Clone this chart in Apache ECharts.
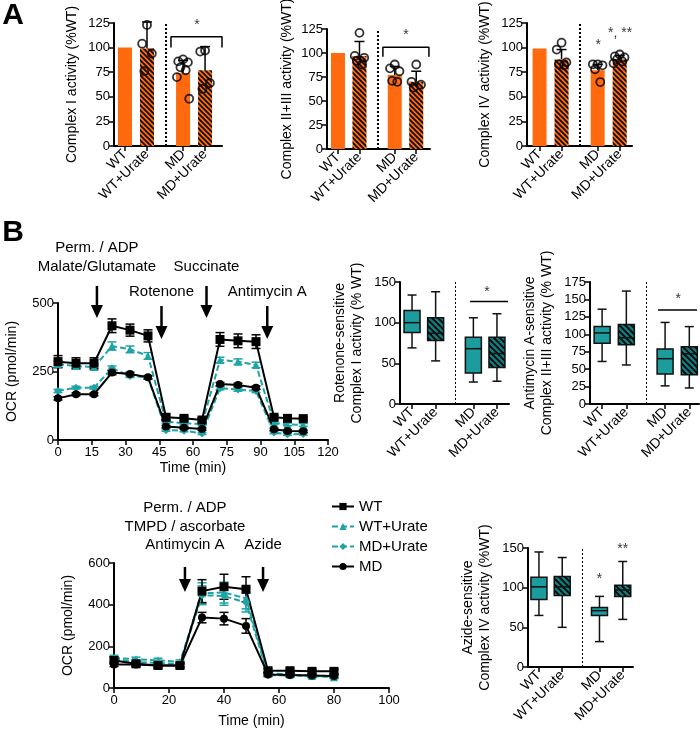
<!DOCTYPE html>
<html>
<head>
<meta charset="utf-8">
<script src="https://cdn.jsdelivr.net/npm/echarts@6/dist/echarts.min.js"></script>
<style>html,body{margin:0;padding:0;background:#fff}#main{width:700px;height:732px}</style>
</head>
<body>
<div id="main"></div>
<script>
const FONT = '"Liberation Sans", Arial, sans-serif';
const ORANGE = '#ff6a0e';
const TEAL = '#1c9c9d';
const TEAL_DARK = '#127a7b';
const TEAL_LINE = '#1ea4a6';

// ---- panel A: enzyme activity bars ----
const groups = ['WT', 'WT+Urate', 'MD', 'MD+Urate'];
const c1Mean = [100, 99, 74, 77];
const c1Sd = [0, 27, 13, 24];
const c1Points = [[], [123, 104, 94, 76], [88, 86, 85, 80, 77, 70, 48], [97, 96, 64, 58]];
const c23Mean = [100, 97, 77, 70];
const c23Sd = [0, 15, 9, 11];
const c23Points = [[], [121, 97, 95, 92, 88], [88, 84, 81, 71, 70], [88, 70, 67, 64]];
const c4Mean = [99, 88, 77, 88];
const c4Sd = [0, 10, 6, 4];
const c4Points = [[], [105, 98, 85, 83, 82], [83, 83, 82, 78, 65], [93, 91, 90, 88, 86, 84]];

// ---- panel B: OCR traces (top) ----
const tTop = [0, 8, 16, 24, 32, 40, 48, 56, 64, 72, 80, 88, 96, 102, 109];
const wtTop = [286, 280, 280, 417, 401, 380, 83, 79, 73, 367, 362, 359, 83, 79, 78];
const wtTopErr = [22, 20, 20, 25, 22, 22, 10, 8, 8, 25, 25, 25, 8, 8, 6];
const wtuTop = [277, 270, 266, 343, 331, 307, 67, 61, 58, 292, 286, 274, 63, 57, 55];
const wtuTopErr = [12, 10, 10, 15, 12, 12, 6, 5, 5, 10, 10, 10, 5, 5, 5];
const mduTop = [179, 191, 191, 262, 234, 228, 36, 34, 24, 189, 184, 179, 27, 21, 22];
const mduTopErr = [6, 5, 5, 8, 6, 6, 4, 4, 4, 6, 6, 6, 4, 4, 4];
const mdTop = [152, 167, 167, 246, 241, 229, 49, 45, 40, 204, 201, 191, 39, 33, 32];
const mdTopErr = [6, 5, 5, 8, 6, 6, 4, 4, 4, 6, 6, 6, 4, 4, 4];

// ---- panel B: OCR traces (bottom) ----
const tBot = [0, 8, 16, 24, 32, 40, 48, 56, 64, 72, 80];
const wtBot = [132, 116, 108, 108, 465, 486, 474, 83, 83, 80, 80];
const wtBotErr = [15, 12, 12, 12, 55, 60, 60, 10, 10, 10, 10];
const wtuBot = [145, 138, 133, 125, 455, 458, 430, 70, 65, 58, 52];
const wtuBotErr = [12, 10, 10, 10, 50, 50, 50, 8, 8, 8, 8];
const mduBot = [138, 125, 120, 115, 445, 442, 410, 62, 60, 57, 55];
const mduBotErr = [12, 10, 10, 10, 45, 45, 45, 8, 8, 8, 8];
const mdBot = [113, 113, 108, 108, 338, 333, 298, 65, 62, 60, 58];
const mdBotErr = [10, 8, 8, 8, 25, 30, 35, 8, 8, 6, 6];

// ---- panel B: box plots [min, Q1, median, Q3, max] ----
const boxRot = [[69, 88, 100, 115, 134], [53, 78, 87, 106, 138], [27, 38, 68, 82, 106], [28, 45, 62, 82, 111]];
const boxAnti = [[61, 87, 102, 111, 136], [56, 85, 95, 114, 162], [26, 43, 65, 79, 117], [23, 42, 72, 82, 111]];
const boxAzide = [[65, 85, 101, 113, 145], [50, 90, 101, 114, 138], [32, 65, 71, 75, 89], [60, 89, 97, 103, 133]];

// group slots on the x axis (gap between WT and MD groups)
const barPos = [0, 1, 2.64, 3.64];
const boxPos = [0, 1, 2.6, 3.6];

function hatch(bg, size, lw) {
    const c = document.createElement('canvas');
    c.width = c.height = size;
    const g = c.getContext('2d');
    g.fillStyle = bg;
    g.fillRect(0, 0, size, size);
    g.strokeStyle = '#000';
    g.lineWidth = lw;
    g.beginPath();
    g.moveTo(-1, -1); g.lineTo(size + 1, size + 1);
    g.moveTo(-1, size - 1); g.lineTo(1, size + 1);
    g.moveTo(size - 1, -1); g.lineTo(size + 1, 1);
    g.stroke();
    return { image: c, repeat: 'repeat' };
}
const hatchOrange = hatch(ORANGE, 5, 1.6);
const hatchTeal = hatch(TEAL_DARK, 6, 1.6);

const axisLine = { show: true, onZero: false, lineStyle: { color: '#000', width: 2 } };
const axisTick = { show: true, inside: false, length: 5, lineStyle: { color: '#000', width: 1.5 } };
const txt = (size) => ({ fontSize: size, color: '#000', fontFamily: FONT });

function yAx(grid, max, step, name, gap) {
    return {
        type: 'value', gridIndex: grid, min: 0, max: max, interval: step,
        name: name, nameLocation: 'middle', nameGap: gap, nameRotate: 90,
        nameTextStyle: Object.assign(txt(14), { lineHeight: 17 }),
        axisLine: axisLine, axisTick: axisTick,
        axisLabel: Object.assign(txt(13), { margin: 4 }),
        splitLine: { show: false }
    };
}
function catAx(grid, min, max, pos) {
    return {
        type: 'value', gridIndex: grid, min: min, max: max,
        axisLine: axisLine,
        axisTick: Object.assign({ customValues: pos }, axisTick),
        axisLabel: Object.assign(txt(14), {
            customValues: pos, rotate: 45, margin: 6,
            formatter: (v) => groups[pos.findIndex((p) => Math.abs(p - v) < 1e-6)] || ''
        }),
        splitLine: { show: false }
    };
}
function timeAx(grid, max, step, gap) {
    return {
        type: 'value', gridIndex: grid, min: 0, max: max, interval: step,
        name: 'Time (min)', nameLocation: 'middle', nameGap: gap,
        nameTextStyle: txt(14),
        axisLine: axisLine, axisTick: axisTick,
        axisLabel: Object.assign(txt(13), { margin: 6 }),
        splitLine: { show: false }
    };
}

const grids = [
    { left: 114, top: 23, width: 108, height: 123 },
    { left: 327, top: 29, width: 103, height: 120 },
    { left: 527, top: 23, width: 105, height: 123 },
    { left: 58, top: 303, width: 270, height: 137 },
    { left: 400, top: 282, width: 109, height: 122 },
    { left: 590, top: 282, width: 109, height: 122 },
    { left: 114, top: 563, width: 275, height: 125 },
    { left: 528, top: 548, width: 105, height: 119 }
].map((g) => Object.assign({ outerBoundsMode: 'none', containLabel: false }, g));

const xAxes = [
    catAx(0, -0.5, 4.41, barPos),
    catAx(1, -0.51, 4.28, barPos),
    catAx(2, -0.57, 4.2, barPos),
    timeAx(3, 120, 15, 21),
    catAx(4, -0.51, 4.11, boxPos),
    catAx(5, -0.5, 4.0, boxPos),
    timeAx(6, 100, 20, 26),
    catAx(7, -0.47, 4.04, boxPos)
];
const yAxes = [
    yAx(0, 125, 25, 'Complex I activity (%WT)', 33),
    yAx(1, 125, 25, 'Complex II+III activity (%WT)', 31),
    yAx(2, 125, 25, 'Complex IV activity (%WT)', 33),
    yAx(3, 500, 250, 'OCR (pmol/min)', 37),
    yAx(4, 150, 50, 'Rotenone-sensitive\nComplex I activity (% WT)', 34),
    yAx(5, 175, 25, 'Antimycin A-sensitive\nComplex II+III activity (% WT)', 34),
    yAx(6, 600, 200, 'OCR (pmol/min)', 37),
    yAx(7, 150, 50, 'Azide-sensitive\nComplex IV activity (%WT)', 34)
];

const jitter = [0, -0.22, 0.22, -0.12, 0.12, -0.28, 0.28];
const dotted = (x, w) => ({
    silent: true, symbol: 'none', label: { show: false }, animation: false,
    lineStyle: { type: [2, 2], color: '#000', width: w }, data: [{ xAxis: x }]
});

function barChart(idx, means, sds, points) {
    return [
        {
            type: 'bar', xAxisIndex: idx, yAxisIndex: idx, barWidth: 14, silent: true,
            data: means.map((m, i) => ({ value: [barPos[i], m], itemStyle: { color: i % 2 ? hatchOrange : ORANGE } })),
            markLine: dotted(1.83, 2)
        },
        {
            type: 'custom', xAxisIndex: idx, yAxisIndex: idx, silent: true, clip: false,
            encode: { x: 0, y: 1 },
            data: means.map((m, i) => [barPos[i], m, sds[i]]).filter((d) => d[2] > 0),
            renderItem: (p, api) => {
                const a = api.coord([api.value(0), api.value(1)]);
                const b = api.coord([api.value(0), api.value(1) + api.value(2)]);
                const st = { stroke: '#000', lineWidth: 1.5 };
                return {
                    type: 'group', children: [
                        { type: 'line', shape: { x1: a[0], y1: a[1], x2: b[0], y2: b[1] }, style: st },
                        { type: 'line', shape: { x1: b[0] - 5, y1: b[1], x2: b[0] + 5, y2: b[1] }, style: st }
                    ]
                };
            }
        },
        {
            type: 'scatter', xAxisIndex: idx, yAxisIndex: idx, silent: true, clip: false,
            symbol: 'circle', symbolSize: 8,
            itemStyle: { color: 'rgba(0,0,0,0)', borderColor: '#000', borderWidth: 1.8 },
            data: points.flatMap((arr, i) => arr.map((v, k) => [barPos[i] + jitter[k % jitter.length], v]))
        }
    ];
}

function bracket(idx, x0, x1, top, drop) {
    return {
        type: 'line', xAxisIndex: idx, yAxisIndex: idx, silent: true, clip: false,
        symbol: 'none', lineStyle: { color: '#000', width: 1.5 },
        data: drop == null ? [[x0, top], [x1, top]] : [[x0, drop], [x0, top], [x1, top], [x1, drop]]
    };
}
function stars(idx, items) {
    return {
        type: 'scatter', xAxisIndex: idx, yAxisIndex: idx, silent: true, clip: false,
        symbolSize: 1, itemStyle: { color: 'rgba(0,0,0,0)' },
        label: Object.assign({ show: true, position: 'inside', formatter: '{b}' }, txt(14)),
        data: items.map((s) => ({ value: [s[0], s[1]], name: s[2] }))
    };
}

function boxChart(idx, boxes) {
    return {
        type: 'custom', xAxisIndex: idx, yAxisIndex: idx, silent: true,
        encode: { x: 0, y: [1, 2, 3, 4, 5] },
        data: boxes.map((b, i) => [boxPos[i]].concat(b)),
        renderItem: (p, api) => {
            const x = api.value(0);
            const c = (i) => api.coord([x, api.value(i)]);
            const pMin = c(1), pQ1 = c(2), pMed = c(3), pQ3 = c(4), pMax = c(5);
            const cx = pMin[0], half = 8, cap = 4.5;
            const st = { stroke: '#111', lineWidth: 1.5 };
            return {
                type: 'group', children: [
                    { type: 'line', shape: { x1: cx, y1: pMax[1], x2: cx, y2: pQ3[1] }, style: st },
                    { type: 'line', shape: { x1: cx, y1: pQ1[1], x2: cx, y2: pMin[1] }, style: st },
                    { type: 'line', shape: { x1: cx - cap, y1: pMax[1], x2: cx + cap, y2: pMax[1] }, style: st },
                    { type: 'line', shape: { x1: cx - cap, y1: pMin[1], x2: cx + cap, y2: pMin[1] }, style: st },
                    {
                        type: 'rect', shape: { x: cx - half, y: pQ3[1], width: half * 2, height: pQ1[1] - pQ3[1] },
                        style: { fill: p.dataIndex % 2 ? hatchTeal : TEAL, stroke: '#111', lineWidth: 1.5 }
                    },
                    { type: 'line', shape: { x1: cx - half, y1: pMed[1], x2: cx + half, y2: pMed[1] }, style: st }
                ]
            };
        }
    };
}

const zip = (t, v) => t.map((x, i) => [x, v[i]]);
const zip3 = (t, v, e) => t.map((x, i) => [x, v[i], e[i]]);

const lineDefs = [
    { name: 'WT+Urate', symbol: 'triangle', color: TEAL_LINE, dash: true },
    { name: 'MD+Urate', symbol: 'diamond', color: TEAL_LINE, dash: true },
    { name: 'WT', symbol: 'rect', color: '#000', dash: false },
    { name: 'MD', symbol: 'circle', color: '#000', dash: false }
];
function traces(idx, t, vals, errs) {
    const out = [];
    lineDefs.forEach((d, k) => {
        out.push({
            type: 'custom', xAxisIndex: idx, yAxisIndex: idx, silent: true,
            encode: { x: 0, y: 1 },
            data: zip3(t, vals[k], errs[k]),
            renderItem: (p, api) => {
                const lo = api.coord([api.value(0), api.value(1) - api.value(2)]);
                const hi = api.coord([api.value(0), api.value(1) + api.value(2)]);
                const st = { stroke: d.color, lineWidth: 1.5 };
                return {
                    type: 'group', children: [
                        { type: 'line', shape: { x1: lo[0], y1: lo[1], x2: hi[0], y2: hi[1] }, style: st },
                        { type: 'line', shape: { x1: hi[0] - 4.5, y1: hi[1], x2: hi[0] + 4.5, y2: hi[1] }, style: st },
                        { type: 'line', shape: { x1: lo[0] - 4.5, y1: lo[1], x2: lo[0] + 4.5, y2: lo[1] }, style: st }
                    ]
                };
            }
        });
        out.push({
            name: d.name, type: 'line', xAxisIndex: idx, yAxisIndex: idx, silent: true,
            symbol: d.symbol, symbolSize: d.symbol === 'rect' ? 9 : 8,
            lineStyle: { color: d.color, width: 2, type: d.dash ? [6, 3] : 'solid' },
            itemStyle: { color: d.color },
            data: zip(t, vals[k])
        });
    });
    return out;
}

const series = [].concat(
    barChart(0, c1Mean, c1Sd, c1Points),
    [bracket(0, 2.09, 4.41, 111, 100), stars(0, [[3.27, 123, '*']])],
    barChart(1, c23Mean, c23Sd, c23Points),
    [bracket(1, 2.09, 4.23, 106, 96), stars(1, [[3.16, 119, '*']])],
    barChart(2, c4Mean, c4Sd, c4Points),
    [stars(2, [[2.66, 102, '*'], [3.66, 115, '*, **']])],
    traces(3, tTop, [wtuTop, mduTop, wtTop, mdTop], [wtuTopErr, mduTopErr, wtTopErr, mdTopErr]),
    [boxChart(4, boxRot), bracket(4, 2.46, 4.07, 126), stars(4, [[3.18, 137, '*']])],
    [boxChart(5, boxAnti), bracket(5, 2.31, 3.92, 135), stars(5, [[3.14, 150, '*']])],
    traces(6, tBot, [wtuBot, mduBot, wtBot, mdBot], [wtuBotErr, mduBotErr, wtBotErr, mdBotErr]),
    [boxChart(7, boxAzide), stars(7, [[2.6, 111, '*'], [3.6, 148, '**']])]
);
// dotted separators in the box plots
series.push({ type: 'line', xAxisIndex: 4, yAxisIndex: 4, data: [], markLine: dotted(1.82, 1) });
series.push({ type: 'line', xAxisIndex: 5, yAxisIndex: 5, data: [], markLine: dotted(1.81, 1) });
series.push({ type: 'line', xAxisIndex: 7, yAxisIndex: 7, data: [], markLine: dotted(1.85, 1) });

const chart = echarts.init(document.getElementById('main'), null, { renderer: 'canvas' });
chart.setOption({
    animation: false,
    backgroundColor: '#fff',
    textStyle: { fontFamily: FONT },
    grid: grids,
    xAxis: xAxes,
    yAxis: yAxes,
    legend: {
        data: ['WT', 'WT+Urate', 'MD+Urate', 'MD'],
        orient: 'vertical', left: 326, top: 494,
        itemWidth: 22, itemHeight: 9, itemGap: 5,
        selectedMode: false,
        textStyle: txt(15)
    },
    series: series
});

// injection arrows and labels above the traces
function px(idx, t) {
    return chart.convertToPixel({ xAxisIndex: idx, yAxisIndex: idx }, [t, 0])[0];
}
function arrow(x, y0, y1) {
    return [
        { type: 'line', shape: { x1: x, y1: y0, x2: x, y2: y1 - 10 }, style: { stroke: '#000', lineWidth: 2.5 } },
        { type: 'polygon', shape: { points: [[x - 6, y1 - 13], [x + 6, y1 - 13], [x, y1]] }, style: { fill: '#000' } }
    ];
}
function label(text, x, y, size, weight) {
    return {
        type: 'text', x: x, y: y,
        style: { text: text, fontSize: size, fontWeight: weight || 'normal', fontFamily: FONT, fill: '#000', align: 'center', verticalAlign: 'middle' }
    };
}
const injTop = [17.3, 46, 66, 93];
const injBot = [25.8, 54.2];
const g = [
    label('A', 13, 16, 30, 'bold'),
    label('B', 13, 233, 30, 'bold'),
    label('Perm. / ADP', px(3, injTop[0]), 248, 15),
    label('Malate/Glutamate', px(3, injTop[0]), 267, 15),
    label('Succinate', px(3, injTop[2]), 267, 15),
    label('Rotenone', px(3, injTop[1]), 292, 15),
    label('Antimycin A', px(3, injTop[3]), 292, 15),
    label('Perm. / ADP', px(6, injBot[0]), 508, 15),
    label('TMPD / ascorbate', px(6, injBot[0]), 527, 15),
    label('Antimycin A', px(6, injBot[0]), 545, 15),
    label('Azide', px(6, injBot[1]), 545, 15)
].concat(
    arrow(px(3, injTop[0]), 286, 318),
    arrow(px(3, injTop[1]), 306, 339),
    arrow(px(3, injTop[2]), 286, 318),
    arrow(px(3, injTop[3]), 306, 339),
    arrow(px(6, injBot[0]), 567, 592),
    arrow(px(6, injBot[1]), 567, 592)
);
chart.setOption({ graphic: g });
</script>
</body>
</html>
